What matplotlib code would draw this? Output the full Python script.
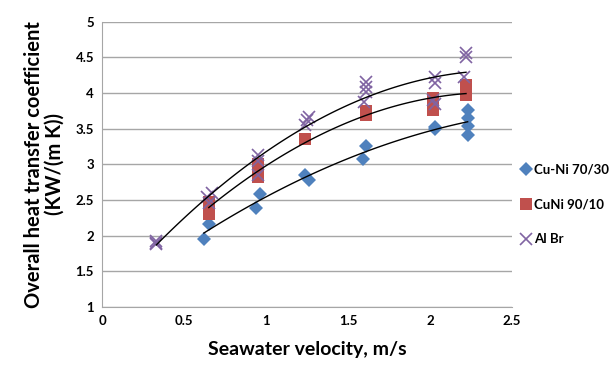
import numpy as np
import matplotlib
matplotlib.use("Agg")
import matplotlib.pyplot as plt

plt.rcParams['font.family'] = ['Lato', 'DejaVu Sans']
plt.rcParams['font.weight'] = 'bold'

# Cu-Ni 70/30
cuni7030_v = [0.62, 0.65, 0.94, 0.96, 1.24, 1.26, 1.59, 1.61, 2.03, 2.03, 2.23, 2.23, 2.23, 2.23]
cuni7030_u = [1.96, 2.17, 2.39, 2.59, 2.85, 2.78, 3.08, 3.26, 3.53, 3.50, 3.76, 3.65, 3.54, 3.41]

# CuNi 90/10
cuni9010_v = [0.65, 0.65, 0.65, 0.95, 0.95, 0.95, 1.24, 1.61, 1.61, 2.02, 2.02, 2.02, 2.22, 2.22, 2.22]
cuni9010_u = [2.48, 2.38, 2.30, 3.00, 2.90, 2.82, 3.36, 3.75, 3.70, 3.93, 3.85, 3.77, 4.12, 4.05, 3.98]

# Al Br
albr_v = [0.33, 0.33, 0.33, 0.64, 0.65, 0.67, 0.95, 0.95, 0.95, 1.25, 1.24, 1.26,
          1.61, 1.61, 1.61, 1.60, 2.03, 2.03, 2.02, 2.03, 2.22, 2.22, 2.21]
albr_u = [1.92, 1.88, 1.90, 2.55, 2.46, 2.60, 3.13, 3.05, 2.85, 3.62, 3.55, 3.67,
          4.16, 4.09, 4.02, 3.88, 4.23, 4.14, 3.90, 3.85, 4.56, 4.51, 4.23]

series = [
    ("Cu-Ni 70/30", cuni7030_v, cuni7030_u, 'D', '#4F81BD', 7),
    ("CuNi 90/10", cuni9010_v, cuni9010_u, 's', '#C0504D', 8),
    ("Al Br", albr_v, albr_u, 'x', '#8064A2', 9),
]

fig = plt.figure(figsize=(6.16, 3.70), dpi=100)
ax = fig.add_axes([0.166, 0.170, 0.665, 0.771])

for name, v, u, mk, col, ms in series:
    if mk == 'x':
        ax.plot(v, u, linestyle='none', marker=mk, color=col, markersize=ms,
                markeredgewidth=1.2, label=name, zorder=3)
    else:
        ax.plot(v, u, linestyle='none', marker=mk, color=col, markersize=ms,
                markeredgewidth=0, label=name, zorder=3)
    # 2nd order trend line
    coef = np.polyfit(v, u, 2)
    xs = np.linspace(min(v), max(v), 100)
    ax.plot(xs, np.polyval(coef, xs), color='black', linewidth=1.0, zorder=4)

ax.set_xlim(0, 2.5)
ax.set_ylim(1, 5)
ax.set_xticks(np.arange(0, 2.51, 0.5))
ax.set_yticks(np.arange(1, 5.01, 0.5))
ax.set_xticklabels(['0', '0.5', '1', '1.5', '2', '2.5'])
ax.set_yticklabels(['1', '1.5', '2', '2.5', '3', '3.5', '4', '4.5', '5'])
ax.yaxis.grid(True, color='#A6A6A6', linewidth=1.0)
ax.set_axisbelow(True)
for s in ['top', 'right']:
    ax.spines[s].set_visible(False)
for s in ['left', 'bottom']:
    ax.spines[s].set_color('#A6A6A6')
ax.tick_params(length=0, labelsize=9.5, pad=6)
for lab in ax.get_xticklabels() + ax.get_yticklabels():
    lab.set_fontweight('bold')

ax.set_xlabel('Seawater velocity, m/s', fontsize=14, fontweight='bold', labelpad=10)
ax.set_ylabel('Overall heat transfer coefficient\n(KW/(m K))', fontsize=14.5,
              fontweight='bold', labelpad=8, linespacing=1.0)

leg = ax.legend(loc='center left', bbox_to_anchor=(1.005, 0.36), frameon=False,
                fontsize=9.5, handletextpad=0.1, handlelength=1.0, labelspacing=1.75,
                borderpad=0.2, borderaxespad=0.2)
for t in leg.get_texts():
    t.set_fontweight('bold')

fig.savefig('out.png', dpi=100)
